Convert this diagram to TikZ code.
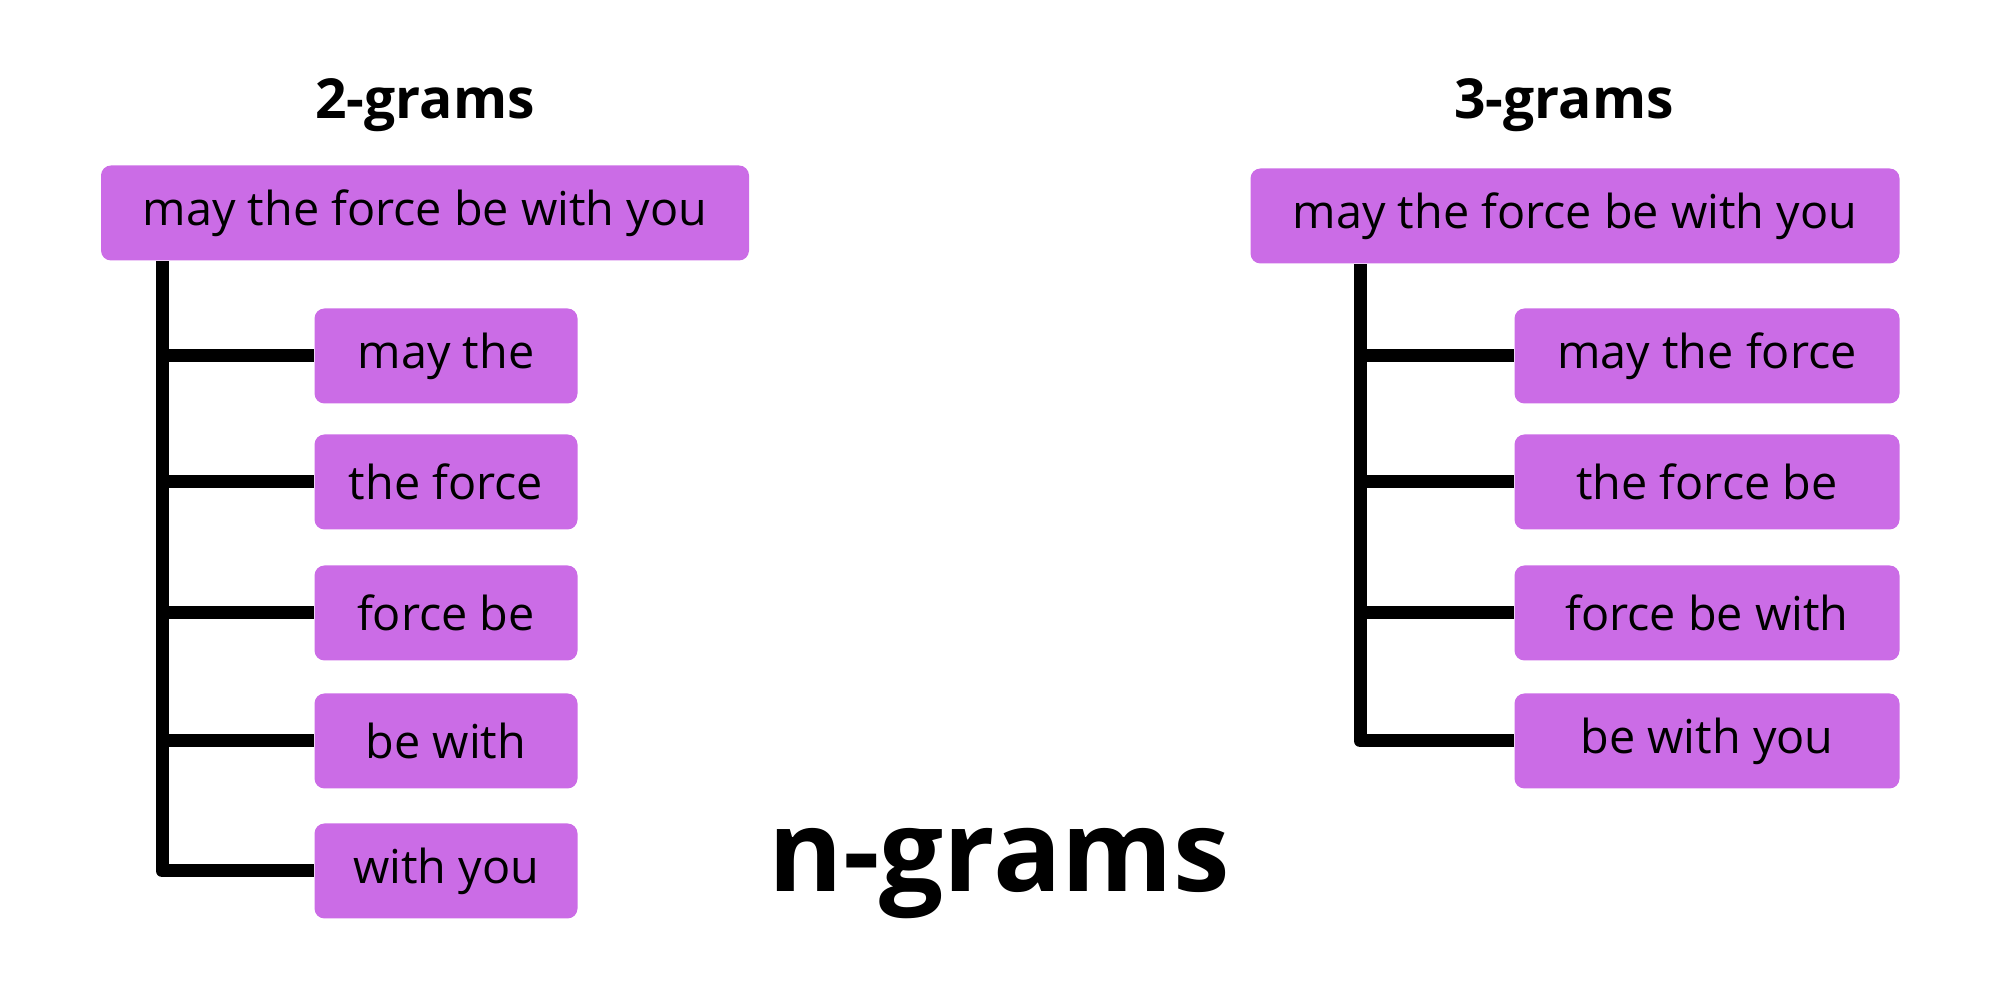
\documentclass[tikz,border=0pt]{standalone}
\usepackage{fontspec}
\setmainfont{Open Sans}
\definecolor{gramfill}{HTML}{CB6CE6}
\tikzset{
	gram/.style = {fill = gramfill, rounded corners = 0.1cm, minimum height = 0.95cm, inner sep = 0pt, font = \fontsize{13.3}{16}\selectfont},
	branch/.style = {line width = 0.13cm, line join = round, line cap = butt},
	title/.style = {font = \fontsize{15.7}{19}\selectfont\bfseries}
}
\begin{document}
\begin{tikzpicture}
	\useasboundingbox (0,0) rectangle (20,10);
	% 2-grams
	\node [title] (titleL) at (4.25,8.95) {2-grams};
	\node [gram, minimum width = 6.48cm] (rootL) at (4.25,7.87) {may the force be with you};
	\coordinate (trunkL) at (1.62,0);
	\node [gram, minimum width = 2.63cm] (mt) at (4.46,6.44) {may the};
	\node [gram, minimum width = 2.63cm] (tf) at (4.46,5.18) {the force};
	\node [gram, minimum width = 2.63cm] (fb) at (4.46,3.87) {force be};
	\node [gram, minimum width = 2.63cm] (bw) at (4.46,2.59) {be with};
	\node [gram, minimum width = 2.63cm] (wy) at (4.46,1.29) {with you};
	\foreach \c in {mt,tf,fb,bw,wy}
		\draw [branch] (rootL.south -| trunkL) |- (\c.west);
	% 3-grams
	\node [title] (titleR) at (15.64,8.95) {3-grams};
	\node [gram, minimum width = 6.49cm] (rootR) at (15.75,7.84) {may the force be with you};
	\coordinate (trunkR) at (13.60,0);
	\node [gram, minimum width = 3.85cm] (mtf) at (17.07,6.44) {may the force};
	\node [gram, minimum width = 3.85cm] (tfb) at (17.07,5.18) {the force be};
	\node [gram, minimum width = 3.85cm] (fbw) at (17.07,3.87) {force be with};
	\node [gram, minimum width = 3.85cm] (bwy) at (17.07,2.59) {be with you};
	\foreach \c in {mtf,tfb,fbw,bwy}
		\draw [branch] (rootR.south -| trunkR) |- (\c.west);
	\node [font = \fontsize{32.3}{39}\selectfont\bfseries] (ngrams) at (9.99,1.26) {n-grams};
\end{tikzpicture}
\end{document}
